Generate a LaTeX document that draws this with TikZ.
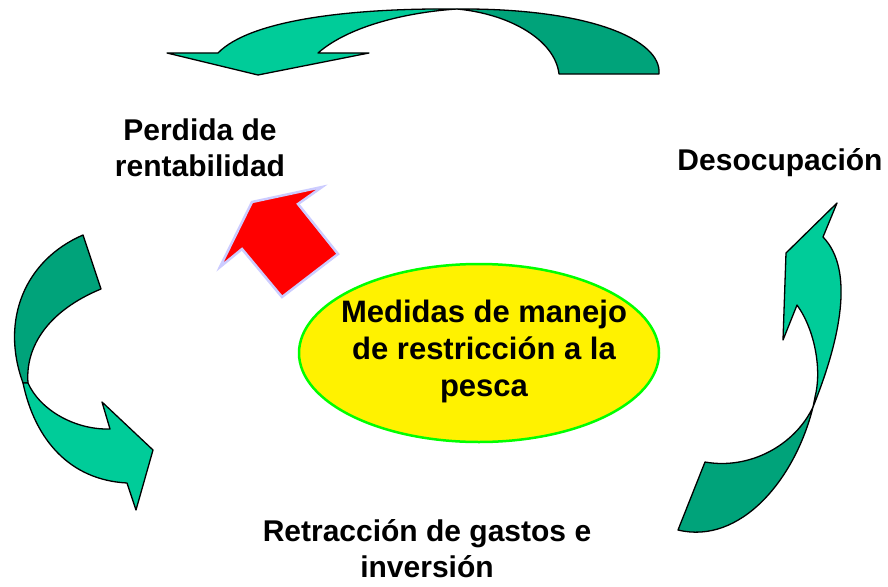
\documentclass[tikz,border=0pt]{standalone}
\usepackage{fontspec}
\setmainfont{Liberation Sans}
\definecolor{seagreen}{RGB}{0,204,153}
\definecolor{deepgreen}{RGB}{0,163,122}
\definecolor{lavender}{RGB}{204,204,255}

\begin{document}
\begin{tikzpicture}[
  x=1pt,y=-1pt,
  every node/.style={font=\bfseries\fontsize{30}{36}\selectfont,align=center},
  band/.style={draw=black,line width=1.3pt,line join=round},
  front/.style={band,fill=seagreen},
  back/.style={band,fill=deepgreen},
  hub/.style={draw=green,line width=2.5pt,fill=yellow},
  push/.style={draw=lavender,line width=2.5pt,fill=red,line join=miter}
]
  \useasboundingbox[fill=white] (0,0) rectangle (888,586);
  % top loop
  \draw[back] (457,9) .. controls (590,8) and (662,40) .. (659,74)
    -- (559,74) .. controls (555,40) and (510,14) .. cycle;
  \draw[front] (457,9) .. controls (350,8) and (250,20) .. (218,53)
    -- (167,53) -- (258,75) -- (369,53) -- (318,53)
    .. controls (350,25) and (410,12) .. cycle;
  % left loop
  \draw[back] (83,235) .. controls (25,260) and (0,320) .. (23,383)
    -- (28,383) .. controls (25,345) and (50,310) .. (101,289) -- cycle;
  \draw[front] (23,383) .. controls (35,440) and (70,480) .. (127,483)
    -- (136,510) -- (153,450) -- (102,402) -- (110,429)
    .. controls (75,430) and (40,410) .. (28,383) -- cycle;
  % right loop
  \draw[back] (678,530) .. controls (740,545) and (795,480) .. (813,407)
    .. controls (795,445) and (750,470) .. (705,462) -- cycle;
  \draw[front] (813,407) .. controls (840,340) and (855,270) .. (823,237)
    -- (837,203) -- (786,253) -- (783,340) -- (797,305)
    .. controls (815,330) and (822,370) .. (815,397) -- cycle;
  % red block arrow
  \draw[push] (252,202) -- (322,187) -- (298,204) -- (338,254)
    -- (282,297) -- (242,249) -- (220,267) -- cycle;
  % centre
  \draw[hub] (479,353) ellipse [x radius=180,y radius=89];
  \node[font=\bfseries\fontsize{31}{37}\selectfont] (medidas) at (484,351)
    {Medidas de manejo\\de restricción a la\\pesca};
  % labels
  \node (perdida) at (200,148) {Perdida de\\rentabilidad};
  \node[anchor=base] (desocupacion) at (780,170) {Desocupación};
  \node (retraccion) at (427,549) {Retracción de gastos e\\inversión};
\end{tikzpicture}
\end{document}
